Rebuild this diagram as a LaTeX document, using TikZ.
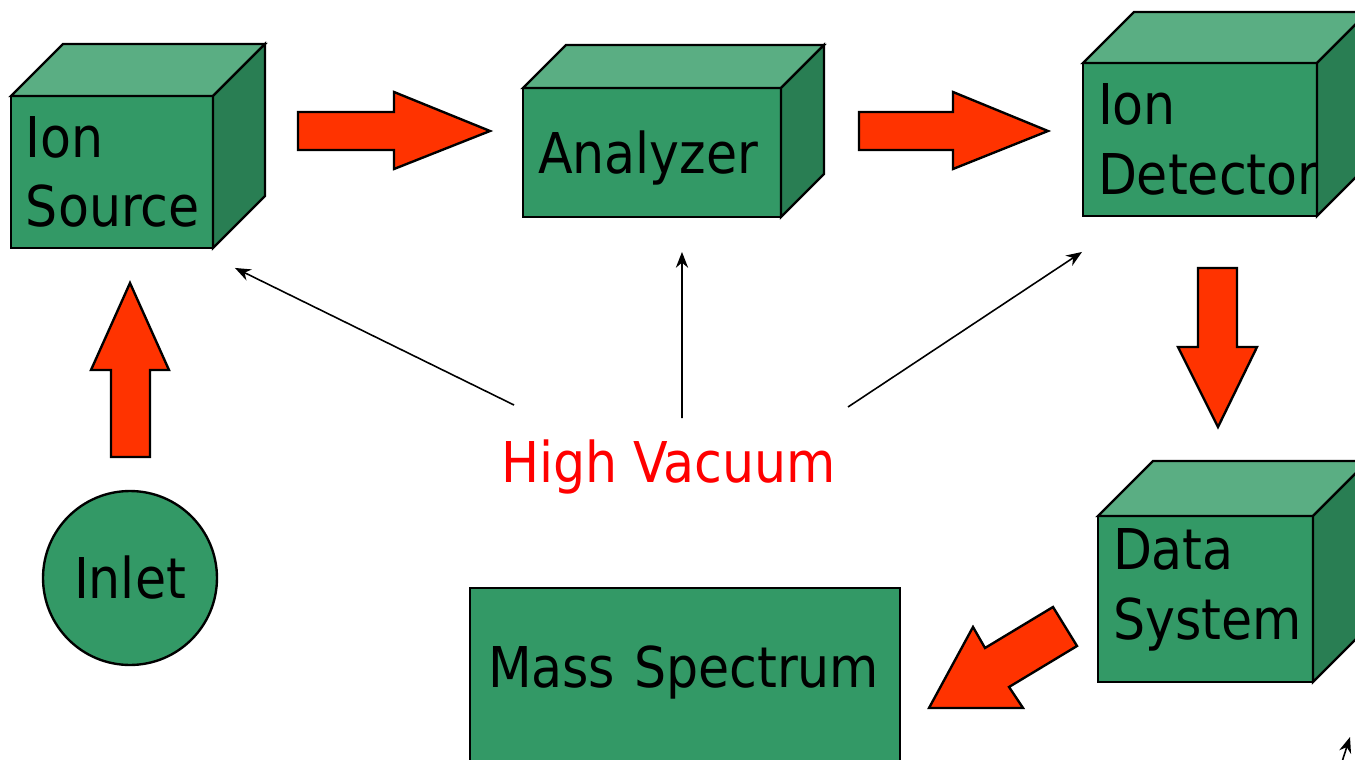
\documentclass[tikz,border=0pt]{standalone}
\usepackage{fontspec}
\setmainfont{DejaVu Sans Condensed}
\usepackage{tikz}
\usetikzlibrary{positioning,calc,arrows.meta}
\definecolor{boxfront}{RGB}{51,153,102}
\definecolor{boxtop}{RGB}{90,174,131}
\definecolor{boxside}{RGB}{41,126,83}
\definecolor{fatred}{RGB}{255,51,0}
% top and right faces of a box, #1 = front node, #2 = depth
\newcommand{\cubesides}[2]{%
  \filldraw[fill=boxtop] (#1.north west) -- ++(#2,-#2) -- ($(#1.north east)+(#2,-#2)$) -- (#1.north east) -- cycle;
  \filldraw[fill=boxside] (#1.north east) -- ++(#2,-#2) -- ($(#1.south east)+(#2,-#2)$) -- (#1.south east) -- cycle;}

\begin{document}
\begin{tikzpicture}[x=0.02cm,y=-0.02cm,line width=1.35pt,line join=miter,
  font=\fontsize{32}{39.5}\selectfont,
  face/.style={draw,fill=boxfront,outer sep=0pt,inner xsep=0.3cm,inner ysep=0pt,anchor=north west,align=left},
  fatarrow/.style={draw,fill=fatred},
  vacarrow/.style={-{Stealth[length=9pt,width=7pt]},line width=0.9pt}]
\useasboundingbox (0,0) rectangle (1355,760);
\clip (0,0) rectangle (1355,760);
% boxes
\node[face,text width=3.44cm,minimum height=3.04cm] (src) at (11,96) {Ion\\Source};
\cubesides{src}{52}
\node[face,text width=4.56cm,minimum height=2.58cm,text depth=0pt] (ana) at (523,88) {Analyzer};
\cubesides{ana}{43}
\node[face,text width=4.08cm,minimum height=3.06cm] (det) at (1083,63) {Ion\\Detector};
\cubesides{det}{51}
\node[face,text width=3.70cm,minimum height=3.32cm,text depth=1.98cm] (dsys) at (1098,516) {Data\\System};
\cubesides{dsys}{55}
\node[face,inner xsep=0.36cm,text width=7.88cm,minimum height=4cm,text height=0.8cm,text depth=0.8cm] (ms) at (470,588) {Mass Spectrum};
\node[circle,draw,fill=boxfront,minimum size=3.48cm,inner sep=0pt] (inlet) at (130,578) {Inlet};
\node[text=red,inner sep=0pt,anchor=base west] (vac) at (500,482) {High Vacuum};
% red arrows
\draw[fatarrow] (298,112) -- (394,112) -- (394,92) -- (490,131) -- (394,169) -- (394,150) -- (298,150) -- cycle;
\draw[fatarrow] (859,112) -- (953,112) -- (953,92) -- (1048,131) -- (953,169) -- (953,150) -- (859,150) -- cycle;
\draw[fatarrow] (1198,268) -- (1237,268) -- (1237,347) -- (1257,347) -- (1218,427) -- (1178,347) -- (1198,347) -- cycle;
\draw[fatarrow] (111,457) -- (111,370) -- (91,370) -- (130,283) -- (169,370) -- (150,370) -- (150,457) -- cycle;
\draw[fatarrow] (1053,607) -- (1077,646) -- (1009,687) -- (1023,708) -- (929,708) -- (973,627) -- (985,648) -- cycle;
% vacuum arrows
\coordinate (vacl) at (514,405);
\coordinate (vacm) at (682,418);
\coordinate (vacr) at (848,407);
\coordinate (srcv) at ($(src.south east)+(22,20)$);
\coordinate (anav) at ($(ana.south)+(30,35)$);
\coordinate (detv) at ($(det.south west)+(-1,36)$);
\draw[vacarrow] (vacl) -- (srcv);
\draw[vacarrow] (vacm) -- (anav);
\draw[vacarrow] (vacr) -- (detv);
\coordinate (offa) at (1340,768);
\coordinate (offb) at (1350,737);
\draw[vacarrow] (offa) -- (offb);
\end{tikzpicture}
\end{document}
